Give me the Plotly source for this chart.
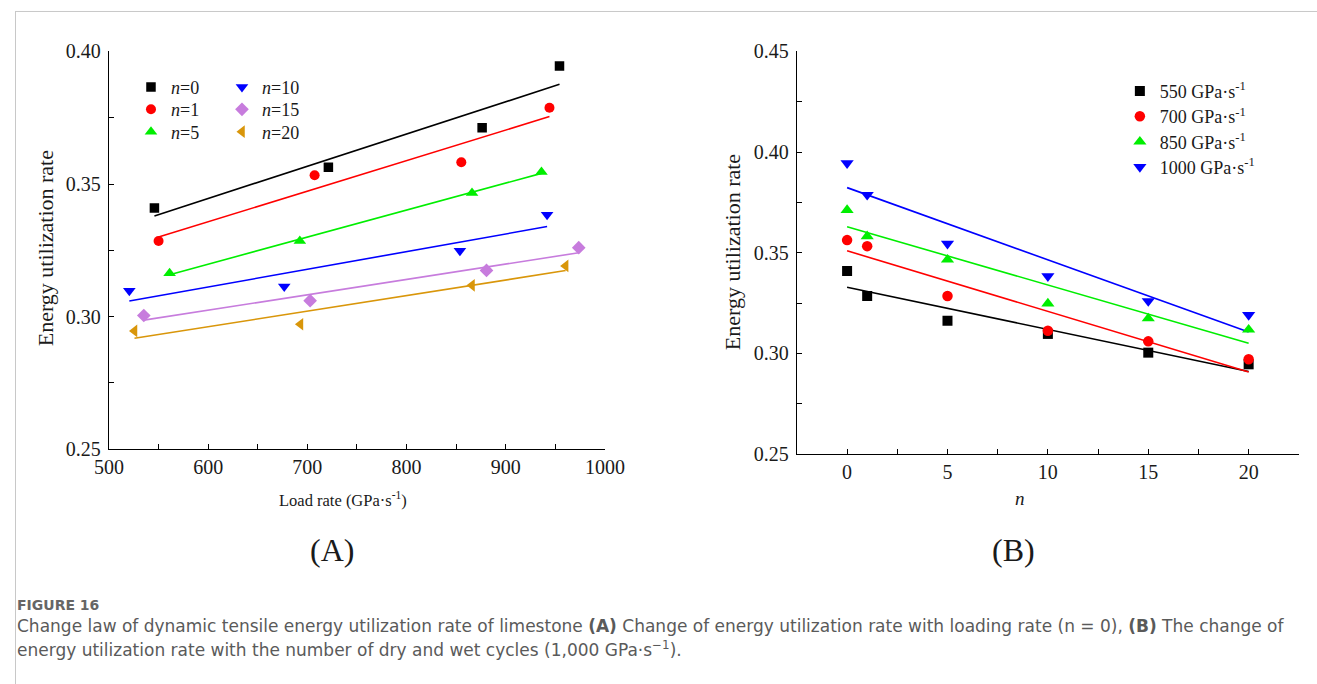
import numpy as np
import plotly.graph_objects as go

# Figure size in CSS pixels, and the placement of the drawing on the final
# 1317x684 picture (scale and offset of the rendered page).
W, H = 1340, 695
S, CX, CY = 0.974, 13.0, 9.3

# Number of dry-wet cycles
n_values = [0, 1, 5, 10, 15, 20]

# Energy utilization rate for each nominal loading rate group (one entry per n)
eur_550 = [0.3410, 0.3285, 0.3163, 0.3097, 0.3004, 0.2946]
eur_700 = [0.3563, 0.3533, 0.3285, 0.3113, 0.3060, 0.2971]
eur_850 = [0.3712, 0.3582, 0.3466, 0.3248, 0.3174, 0.3118]
eur_1000 = [0.3945, 0.3788, 0.3545, 0.3384, 0.3260, 0.3191]

# Measured loading rate (GPa/s) of each specimen (one entry per n)
load_550 = [545.8, 550.0, 561.1, 520.5, 535.1, 525.7]
load_700 = [721.2, 707.3, 692.4, 676.7, 702.8, 693.0]
load_850 = [876.2, 855.2, 866.0, 853.8, 880.6, 866.0]
load_1000 = [954.2, 944.1, 936.0, 941.7, 973.6, 960.4]

group_labels = ["550 GPa·s<sup>-1</sup>", "700 GPa·s<sup>-1</sup>",
                "850 GPa·s<sup>-1</sup>", "1000 GPa·s<sup>-1</sup>"]

n_colors = ["#000000", "#FF0000", "#00EE00", "#0000FF", "#C77CDD", "#D9960A"]
n_symbols = ["square", "circle", "triangle-up", "triangle-down", "diamond", "triangle-left"]
n_sizes = [9.5, 10, 11, 11, 10.5, 11]
g_colors = ["#000000", "#FF0000", "#00EE00", "#0000FF"]
g_symbols = ["square", "circle", "triangle-up", "triangle-down"]
g_sizes = [10, 10.5, 11.5, 11.5]

SERIF = "Liberation Serif"
TXT = "#1a1a1a"


def px_x(q):
    """Picture x pixel -> paper fraction."""
    return max((q - CX) / S, 0.0) / W


def px_y(q):
    """Picture y pixel (from top) -> paper fraction."""
    return 1 - max((q - CY) / S, 0.0) / H


def linear_fit(x, y):
    x = np.asarray(x, dtype=float)
    y = np.asarray(y, dtype=float)
    k, b = np.polyfit(x, y, 1)
    xs = np.array([x.min(), x.max()])
    return xs, k * xs + b


fig = go.Figure()
legend_layout = {}


def legend_name(k):
    return "legend" if k == 1 else f"legend{k}"


def add_legend_slot(k, x_px, y_px, size):
    legend_layout[legend_name(k)] = dict(
        x=px_x(x_px), y=px_y(y_px), xanchor="left", yanchor="middle",
        bgcolor="rgba(0,0,0,0)", borderwidth=0,
        font=dict(family=SERIF, size=size, color=TXT))


# (A) energy utilization rate vs loading rate, one series per n
loads = [load_550, load_700, load_850, load_1000]
eurs = [eur_550, eur_700, eur_850, eur_1000]
for i, n in enumerate(n_values):
    xs = [g[i] for g in loads]
    ys = [g[i] for g in eurs]
    fx, fy = linear_fit(xs, ys)
    fig.add_trace(go.Scatter(x=fx, y=fy, mode="lines", showlegend=False,
                             line=dict(color=n_colors[i], width=1.6),
                             xaxis="x", yaxis="y", hoverinfo="skip"))

left_rows = [86, 108.5, 131]
left_cols = [129, 220]
slot = 1
for i, n in enumerate(n_values):
    xs = [g[i] for g in loads]
    ys = [g[i] for g in eurs]
    fig.add_trace(go.Scatter(
        x=xs, y=ys, mode="markers", name=f"<i>n</i>={n}",
        marker=dict(symbol=n_symbols[i], color=n_colors[i], size=n_sizes[i]),
        xaxis="x", yaxis="y", legend=legend_name(slot)))
    add_legend_slot(slot, left_cols[i // 3], left_rows[i % 3], 18)
    slot += 1

# (B) energy utilization rate vs number of cycles, one series per loading rate
for j, ys in enumerate(eurs):
    fx, fy = linear_fit(n_values, ys)
    fig.add_trace(go.Scatter(x=fx, y=fy, mode="lines", showlegend=False,
                             line=dict(color=g_colors[j], width=1.6),
                             xaxis="x2", yaxis="y2", hoverinfo="skip"))

right_rows = [90, 115.5, 141, 166.5]
for j, ys in enumerate(eurs):
    fig.add_trace(go.Scatter(
        x=n_values, y=ys, mode="markers", name=group_labels[j],
        marker=dict(symbol=g_symbols[j], color=g_colors[j], size=g_sizes[j]),
        xaxis="x2", yaxis="y2", legend=legend_name(slot)))
    add_legend_slot(slot, 1118, right_rows[j], 18)
    slot += 1

axis_common = dict(
    showline=True, linecolor="black", linewidth=1.4, showgrid=False,
    zeroline=False, ticks="inside", ticklen=5, tickwidth=1.2, tickcolor="black",
    tickfont=dict(family=SERIF, size=20, color=TXT),
)

fig.update_layout(
    width=W, height=H,
    margin=dict(l=0, r=0, t=0, b=0),
    paper_bgcolor="white", plot_bgcolor="white",
    xaxis=dict(domain=[px_x(107), px_x(603)], range=[500, 1000], dtick=100,
               anchor="y",
               minor=dict(dtick=50, ticks="inside", ticklen=5, tickcolor="black"),
               **axis_common),
    yaxis=dict(domain=[px_y(450), px_y(50)], range=[0.25, 0.40], dtick=0.05,
               tickformat=".2f", anchor="x", ticklabelstandoff=3,
               minor=dict(dtick=0.025, ticks="inside", ticklen=5, tickcolor="black"),
               **axis_common),
    xaxis2=dict(domain=[px_x(795), px_x(1297)], range=[-2.5, 22.5], dtick=5,
                tick0=0, anchor="y2",
                minor=dict(dtick=2.5, tick0=0, ticks="inside", ticklen=5, tickcolor="black"),
                **axis_common),
    yaxis2=dict(domain=[px_y(455), px_y(50)], range=[0.25, 0.45], dtick=0.05,
                tickformat=".2f", anchor="x2", ticklabelstandoff=3,
                minor=dict(dtick=0.025, ticks="inside", ticklen=5, tickcolor="black"),
                **axis_common),
    **legend_layout,
)

annotations = [
    dict(text="Energy utilization rate", x=px_x(43), y=px_y(248), textangle=-90,
         font=dict(family=SERIF, size=22, color=TXT)),
    dict(text="Energy utilization rate", x=px_x(730), y=px_y(252), textangle=-90,
         font=dict(family=SERIF, size=22, color=TXT)),
    dict(text="Load rate (GPa·s<sup>-1</sup>)", x=px_x(341), y=px_y(501),
         font=dict(family=SERIF, size=16.5, color=TXT)),
    dict(text="<i>n</i>", x=px_x(1018), y=px_y(500),
         font=dict(family=SERIF, size=19, color=TXT)),
    dict(text="(A)", x=px_x(330), y=px_y(551),
         font=dict(family=SERIF, size=32, color=TXT)),
    dict(text="(B)", x=px_x(1012), y=px_y(551),
         font=dict(family=SERIF, size=32, color=TXT)),
    dict(text="<b>FIGURE 16</b>", x=px_x(10), y=px_y(607), xanchor="left",
         font=dict(family="DejaVu Sans", size=14, color="#666")),
    dict(text="Change law of dynamic tensile energy utilization rate of limestone "
              "<b>(A)</b> Change of energy utilization rate with loading rate (n = 0), "
              "<b>(B)</b> The change of",
         x=px_x(10), y=px_y(628), xanchor="left",
         font=dict(family="DejaVu Sans", size=17.0, color="#5a5a5a")),
    dict(text="energy utilization rate with the number of dry and wet cycles "
              "(1,000 GPa·s<sup>−1</sup>).",
         x=px_x(10), y=px_y(651), xanchor="left",
         font=dict(family="DejaVu Sans", size=17.0, color="#5a5a5a")),
]
for a in annotations:
    a.setdefault("xref", "paper")
    a.setdefault("yref", "paper")
    a.setdefault("showarrow", False)
    a.setdefault("xanchor", "center")
    a.setdefault("yanchor", "middle")
fig.update_layout(annotations=annotations)

# Light frame around the figure panel
fig.update_layout(shapes=[
    dict(type="line", xref="paper", yref="paper", x0=0, x1=1,
         y0=1 - 0.5 / H, y1=1 - 0.5 / H, line=dict(color="#c8c8c8", width=1)),
    dict(type="line", xref="paper", yref="paper", x0=0.5 / W, x1=0.5 / W,
         y0=0, y1=1 - 0.5 / H, line=dict(color="#c8c8c8", width=1)),
])

fig.write_html("out.html")
